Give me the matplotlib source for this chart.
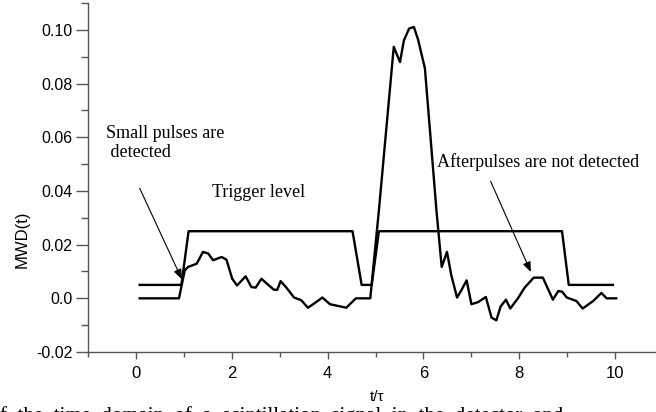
import matplotlib

matplotlib.use('Agg')

import matplotlib.pyplot as plt
from matplotlib.ticker import MultipleLocator

# trigger level (step line)
trig_t = [0.08, 0.95, 1.1, 4.52, 4.71, 4.92, 5.07, 8.89, 9.03, 9.95]
trig_v = [0.005, 0.005, 0.025, 0.025, 0.005, 0.005, 0.025, 0.025, 0.005, 0.005]

# MWD signal
mwd_t = [0.08, 0.9, 1.02, 1.09, 1.27, 1.40, 1.51, 1.61, 1.79, 1.89, 2.01, 2.11,
         2.29, 2.41, 2.50, 2.62, 2.73, 2.88, 2.95, 3.02, 3.14, 3.30, 3.45, 3.59,
         3.73, 3.89, 4.05, 4.39, 4.59, 4.89, 5.07, 5.38, 5.51, 5.59, 5.70, 5.80,
         5.89, 6.03, 6.27, 6.38, 6.49, 6.58, 6.70, 6.79, 6.90, 7.00, 7.14, 7.30,
         7.42, 7.52, 7.61, 7.72, 7.81, 7.97, 8.11, 8.30, 8.49, 8.70, 8.81, 8.89,
         8.99, 9.19, 9.32, 9.54, 9.71, 9.82, 10.02]
mwd_v = [0.0, 0.0, 0.0104, 0.0117, 0.0129, 0.0173, 0.0167, 0.0142, 0.0154, 0.0144,
         0.0073, 0.0048, 0.0082, 0.0042, 0.0040, 0.0073, 0.0055, 0.0032, 0.0032,
         0.0064, 0.0040, 0.0003, -0.0007, -0.0035, -0.0018, 0.0003, -0.0022,
         -0.0035, 0.0, 0.0, 0.0328, 0.0937, 0.0880, 0.0960, 0.1005, 0.1011, 0.0962,
         0.0856, 0.0328, 0.0117, 0.0173, 0.0086, 0.0003, 0.0030, 0.0067, -0.0022,
         -0.0014, 0.0005, -0.0072, -0.0082, -0.0030, -0.0005, -0.0038, 0.0, 0.0040,
         0.0077, 0.0077, -0.0005, 0.0027, 0.0025, 0.0003, -0.0010, -0.0038, -0.0010,
         0.0020, 0.0, 0.0]

xticks = [0, 2, 4, 6, 8, 10]
yticks = [-0.02, 0.0, 0.02, 0.04, 0.06, 0.08, 0.10]
ytick_labels = ['-0.02', '0.0', '0.02', '0.04', '0.06', '0.08', '0.10']

fig = plt.figure(figsize=(6.56, 4.12), dpi=100)
ax = fig.add_axes([0.134, 0.1456, 0.866, 0.847])

ax.plot(trig_t, trig_v, color='black', lw=1.7)
ax.plot(mwd_t, mwd_v, color='black', lw=1.7)

ax.set_xlim(-1, 10.85)
ax.set_ylim(-0.02, 0.110)

for s in ['top', 'right']:
    ax.spines[s].set_visible(False)
for s in ['left', 'bottom']:
    ax.spines[s].set_color('#555555')
    ax.spines[s].set_linewidth(1.0)

ax.set_xticks(xticks)
ax.set_yticks(yticks)
ax.set_yticklabels(ytick_labels)
ax.xaxis.set_minor_locator(MultipleLocator(1))
ax.yaxis.set_minor_locator(MultipleLocator(0.01))
ax.tick_params(which='both', direction='out', width=1, color='#555555')
ax.tick_params('y', which='major', length=9, labelsize=11.5, pad=2)
ax.tick_params('y', which='minor', length=5)
ax.tick_params('x', which='major', length=5, labelsize=12, pad=5)
ax.tick_params('x', which='minor', length=3.5)
for lb in ax.get_xticklabels() + ax.get_yticklabels():
    lb.set_family('Liberation Sans')

fig.text(0.034, 0.42, 'MWD(t)', rotation=90, ha='center', va='center',
         fontsize=12, family='Liberation Sans')
fig.text(0.575, 0.036, 't/\u03c4', ha='center', va='center',
         fontsize=11, family='Liberation Sans')

serif = 'Liberation Serif'
ax.text(-0.63, 0.058, 'Small pulses are\n detected', ha='left', va='center',
        fontsize=13, family=serif, linespacing=1.15)
ax.text(1.58, 0.0395, 'Trigger level', ha='left', va='center',
        fontsize=13, family=serif)
ax.text(6.28, 0.0507, 'Afterpulses are not detected', ha='left', va='center',
        fontsize=13, family=serif)

arrow = dict(arrowstyle='-|>,head_length=0.5,head_width=0.2', color='black',
             lw=0.8, mutation_scale=12, shrinkA=0, shrinkB=0)
ax.annotate('', xy=(0.96, 0.0071), xytext=(0.08, 0.041), arrowprops=arrow)
ax.annotate('', xy=(8.24, 0.0098), xytext=(7.40, 0.0436), arrowprops=arrow)

# caption of the source page, cut off at the bottom of the picture
fig.text(0.0, 0.014, 'f  the  time  domain  of  a  scintillation  signal  in  the  detector  and',
         ha='left', va='top', fontsize=15, family=serif)

fig.savefig('out.png', dpi=100)
plt.close(fig)
